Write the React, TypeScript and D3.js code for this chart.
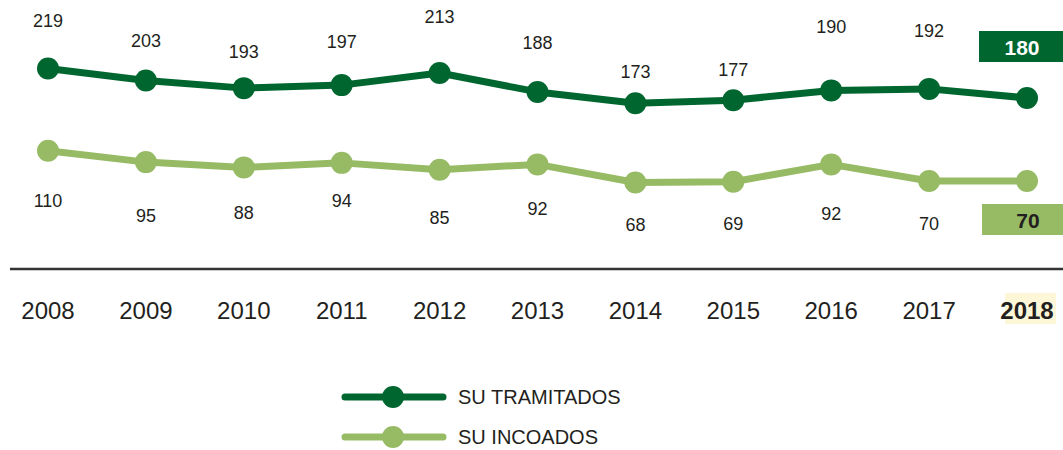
import React from 'react';
import * as d3 from 'd3';

const years = ['2008', '2009', '2010', '2011', '2012', '2013', '2014', '2015', '2016', '2017', '2018'];
const tramitados = [219, 203, 193, 197, 213, 188, 173, 177, 190, 192, 180];
const incoados = [110, 95, 88, 94, 85, 92, 68, 69, 92, 70, 70];
const seriesNames = ['SU TRAMITADOS', 'SU INCOADOS'];

// manual label nudges (px from the point), like the original layout
const tramitadosLabelDy = [-48, -40, -36, -43, -56, -49, -31, -30, -63, -58];
const incoadosLabelDy = [50, 54, 46, 38, 48, 45, 42, 42, 50, 43];

const width = 1063;
const height = 450;
const dark = '#00662f';
const light = '#97bb65';
const ink = '#231f20';
const font = '"Liberation Sans", Arial, sans-serif';

const App = () => {
    const x = d3.scalePoint().domain(years).range([48, 1027]);
    const y = d3.scaleLinear().domain([68, 219]).range([182.5, 68.5]);

    const line = d3.line<number>()
        .x((d, i) => x(years[i]))
        .y(d => y(d));

    const series = [
        { name: seriesNames[0], values: tramitados, color: dark, dy: tramitadosLabelDy },
        { name: seriesNames[1], values: incoados, color: light, dy: incoadosLabelDy },
    ];

    const last = years.length - 1;
    const xLast = x(years[last]);

    return (
        <svg width={width} height={height} style={{ position: 'absolute', left: 0, top: 0, fontFamily: font }}>
            {series.map(s => (
                <g key={s.name}>
                    <path d={line(s.values)} fill="none" stroke={s.color} strokeWidth={7} strokeLinejoin="round" />
                    {s.values.map((v, i) => (
                        <circle key={i} cx={x(years[i])} cy={y(v)} r={11} fill={s.color} />
                    ))}
                    {s.values.slice(0, last).map((v, i) => (
                        <text key={'t' + i} x={x(years[i])} y={y(v) + s.dy[i]} textAnchor="middle"
                              dominantBaseline="central" fontSize={18} fill={ink}>{v}</text>
                    ))}
                </g>
            ))}

            {/* 2018 value boxes */}
            <rect x={xLast - 48} y={31} width={width - xLast + 48} height={31} fill={dark} />
            <text x={xLast - 5} y={47} textAnchor="middle" dominantBaseline="central" fontSize={21}
                  fontWeight="bold" fill="#fff">{tramitados[last]}</text>
            <rect x={xLast - 45} y={204} width={width - xLast + 45} height={31} fill={light} />
            <text x={xLast + 1} y={220} textAnchor="middle" dominantBaseline="central" fontSize={21}
                  fontWeight="bold" fill={ink}>{incoados[last]}</text>

            {/* axis */}
            <line x1={10} x2={width} y1={269} y2={269} stroke="#333" strokeWidth={2.5} />
            <rect x={xLast - 22} y={293} width={51} height={31} fill="#fdf7d8" />
            {years.map((yr, i) => (
                <text key={yr} x={x(yr)} y={310} textAnchor="middle" dominantBaseline="central"
                      fontSize={24} fontWeight={i === last ? 'bold' : 'normal'} fill={ink}>{yr}</text>
            ))}

            {/* legend */}
            {series.map((s, i) => (
                <g key={'lg' + i} transform={`translate(0,${397 + i * 40})`}>
                    <line x1={345} x2={443} y1={0} y2={0} stroke={s.color} strokeWidth={7} strokeLinecap="round" />
                    <circle cx={393} cy={0} r={11} fill={s.color} />
                    <text x={458} y={0} dominantBaseline="central" fontSize={20} fill={ink}>{s.name}</text>
                </g>
            ))}
        </svg>
    );
};

export default App;
